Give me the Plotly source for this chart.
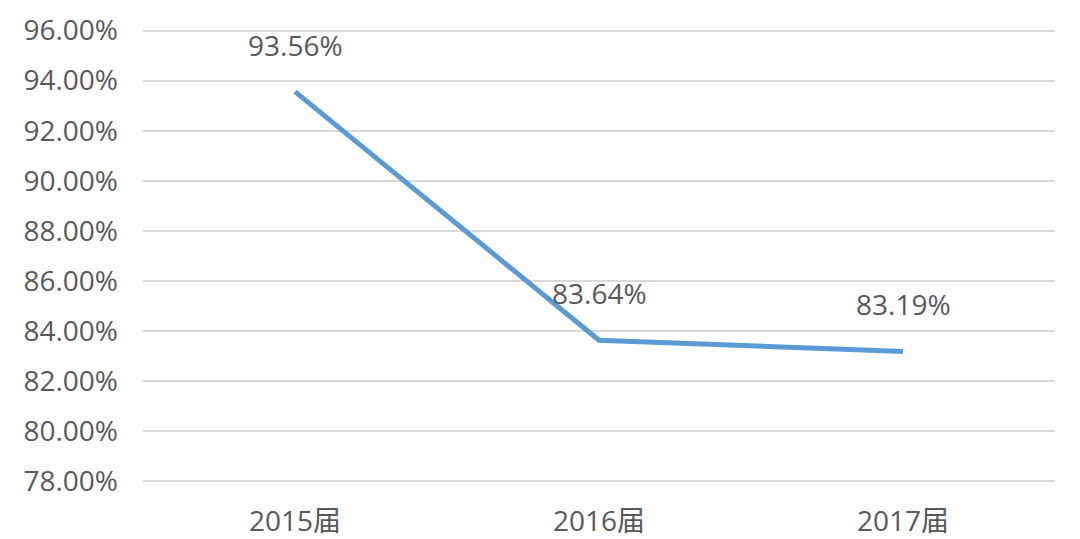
import plotly.graph_objects as go

years = ['2015届', '2016届', '2017届']
rates = [93.56, 83.64, 83.19]
rate_labels = ['93.56%', '83.64%', '83.19%']
y_ticks = [78, 80, 82, 84, 86, 88, 90, 92, 94, 96]
y_tick_text = ['%.2f%%' % v for v in y_ticks]

font_main = dict(family='Open Sans, Noto Sans CJK SC', size=28, color='#595959')

fig = go.Figure()
fig.add_trace(go.Scatter(
    x=years, y=rates, mode='lines',
    line=dict(color='#5B9BD5', width=5),
    hoverinfo='skip', showlegend=False,
))

for yr, v, t in zip(years, rates, rate_labels):
    fig.add_annotation(x=yr, y=v, text=t, showarrow=False, yshift=47,
                       font=font_main)

fig.update_layout(
    width=1080, height=539,
    margin=dict(l=143, r=25, t=28, b=55, autoexpand=False),
    paper_bgcolor='white', plot_bgcolor='white',
    font=font_main,
    xaxis=dict(type='category', range=[-0.5, 2.5], showgrid=False,
               showline=False, zeroline=False, automargin=False,
               ticks='', ticklabelstandoff=18, tickfont=font_main),
    yaxis=dict(range=[77.9, 96.1], tickvals=y_ticks, ticktext=y_tick_text,
               showgrid=True, gridcolor='#D9D9D9', gridwidth=1.5,
               zeroline=False, showline=False, ticks='', automargin=False,
               ticklabelstandoff=24, tickfont=font_main),
)

# page body has a default 8px margin; drop it so the chart sits at 0,0
fig.write_html('out.html', config={'displayModeBar': False},
               post_script="document.body.style.margin='0';")
